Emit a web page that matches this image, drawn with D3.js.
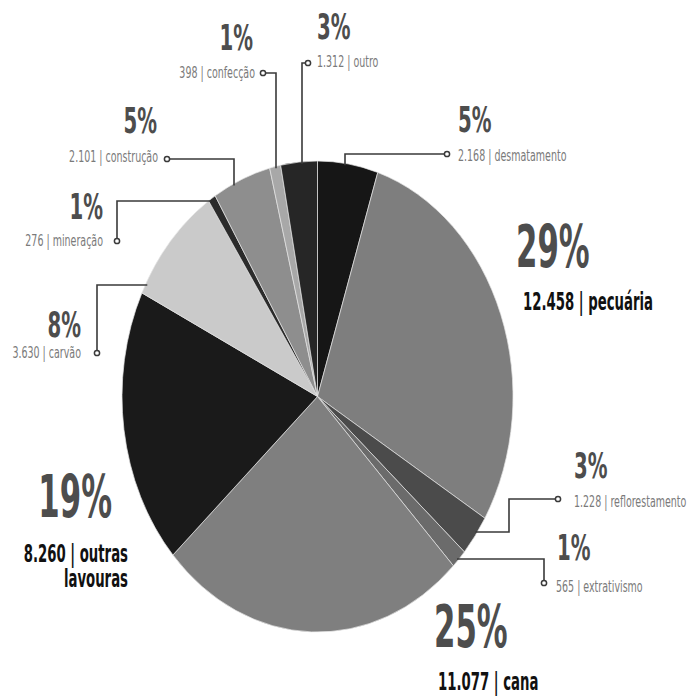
<!DOCTYPE html>
<html><head><meta charset="utf-8">
<script src="https://cdn.jsdelivr.net/npm/d3@7"></script>
<style>
html,body{margin:0;padding:0;background:#fff;}
svg{display:block;}
</style></head>
<body>
<svg id="chart" width="700" height="699"></svg>
<script>
// ---- data ----
const categories = ["desmatamento","pecuária","reflorestamento","extrativismo","cana","outras lavouras","carvão","mineração","construção","confecção","outro"];
const values = [2168,12458,1228,565,11077,8260,3630,276,2101,398,1312];
const sliceColors = ["#161616","#7e7e7e","#4b4b4b","#6b6b6b","#7f7f7f","#1a1a1a","#cacaca","#2b2b2b","#8e8e8e","#a8a8a8","#262626"];

// ---- layout (positions of labels and leader lines) ----
const cx = 317.5, cy = 396.5, r = 195.5, sy = 235.5/195.5;
const layout = {
  "desmatamento":   {big:false, anchor:"start", px:458, py:131.5, lx:458, ly:161, leader:{dot:[447,154], type:"down", x:345}},
  "pecuária":       {big:true,  anchor:"start", px:516, py:267, lx:523, ly:310},
  "reflorestamento":{big:false, anchor:"start", px:574, py:478, lx:574, ly:507, leader:{dot:[558,499], type:"step", x:509, y:532, side:1}},
  "extrativismo":   {big:false, anchor:"start", px:557, py:560, lx:556, ly:592, leader:{dot:[544,583], type:"upside", y:559, side:1}},
  "cana":           {big:true,  anchor:"start", px:434, py:647, lx:438, ly:690},
  "outras lavouras":{big:true,  anchor:"end",   px:112, py:517, lx:128, ly:562, wrap:true},
  "carvão":         {big:false, anchor:"end",   px:81,  py:337, lx:81,  ly:358, leader:{dot:[97,353], type:"upside", y:285, side:-1}},
  "mineração":      {big:false, anchor:"end",   px:103, py:219, lx:103, ly:246, leader:{dot:[117,241], type:"upside", y:201, side:-1}},
  "construção":     {big:false, anchor:"end",   px:157, py:133, lx:158, ly:162, leader:{dot:[167,159], type:"down", x:234}},
  "confecção":      {big:false, anchor:"end",   px:253, py:50,  lx:255, ly:78,  leader:{dot:[263,73], type:"down", x:276}},
  "outro":          {big:false, anchor:"start", px:317, py:39,  lx:317, ly:67,  leader:{dot:[308,63], type:"down", x:302}}
};

const fmt = d3.formatLocale({decimal:",", thousands:".", grouping:[3], currency:["R$",""]}).format(",d");
const total = d3.sum(values);
const data = categories.map((c,i)=>({name:c, value:values[i], color:sliceColors[i]}));

const svg = d3.select("#chart");
const FONT = "'DejaVu Sans Condensed','DejaVu Sans',sans-serif";

// ---- pie ----
const pie = d3.pie().sort(null).value(d=>d.value).startAngle(0).endAngle(2*Math.PI);
const arc = d3.arc().innerRadius(0).outerRadius(r);
const pg = svg.append("g").attr("transform",`translate(${cx},${cy}) scale(1,${sy})`);
pg.selectAll("path").data(pie(data)).join("path")
  .attr("d",arc).attr("fill",d=>d.data.color)
  .attr("stroke","#e4e4e4").attr("stroke-width",0.7).attr("vector-effect","non-scaling-stroke");

// ellipse helpers
function yOnTop(x){ const dx=(x-cx)/r; return cy - r*sy*Math.sqrt(Math.max(0,1-dx*dx)); }
function xOnSide(y,side){ const dy=(y-cy)/(r*sy); return cx + side*r*Math.sqrt(Math.max(0,1-dy*dy)); }

// ---- leaders ----
const lg = svg.append("g").attr("fill","none").attr("stroke","#3a3a3a").attr("stroke-width",1.6);
categories.forEach(c=>{
  const L = layout[c].leader; if(!L) return;
  const [dx,dy] = L.dot; let pts;
  if(L.type==="down") pts=[[dx,dy],[L.x,dy],[L.x,yOnTop(L.x)+2]];
  else if(L.type==="upside") pts=[[dx,dy],[dx,L.y],[xOnSide(L.y,L.side)-L.side*2,L.y]];
  else pts=[[dx,dy],[L.x,dy],[L.x,L.y],[xOnSide(L.y,L.side)-L.side*2,L.y]];
  lg.append("path").attr("d",d3.line()(pts));
  svg.append("circle").attr("cx",dx).attr("cy",dy).attr("r",2.6)
    .attr("fill","#fff").attr("stroke","#3a3a3a").attr("stroke-width",1.5);
});

// ---- text ----
function txt(x,y,lines,size,weight,fill,anchor,sx,lh){
  const t = svg.append("g").attr("transform",`translate(${x},${y}) scale(${sx},1)`)
    .append("text").attr("text-anchor",anchor).attr("font-family",FONT)
    .attr("font-size",size).attr("font-weight",weight).attr("fill",fill);
  [].concat(lines).forEach((s,i)=>{
    t.append("tspan").attr("x",0).attr("y",i*(lh||0)).text(s);
  });
}
data.forEach(d=>{
  const L = layout[d.name];
  const pct = Math.round(d.value/total*100)+"%";
  if(L.big){
    txt(L.px,L.py,pct,58,"bold","#4d4d4d",L.anchor,0.59);
    if(L.wrap){
      const parts=d.name.split(" ");
      txt(L.lx,L.ly,[fmt(d.value)+" | "+parts[0], parts.slice(1).join(" ")],25,"bold","#111",L.anchor,0.59,25);
    } else {
      txt(L.lx,L.ly,fmt(d.value)+" | "+d.name,25,"bold","#111",L.anchor,0.59);
    }
  } else {
    txt(L.px,L.py,pct,36,"bold","#4d4d4d",L.anchor,0.61);
    txt(L.lx,L.ly,fmt(d.value)+" | "+d.name,16,"normal","#7a7a7a",L.anchor,0.66);
  }
});
</script>
</body></html>
